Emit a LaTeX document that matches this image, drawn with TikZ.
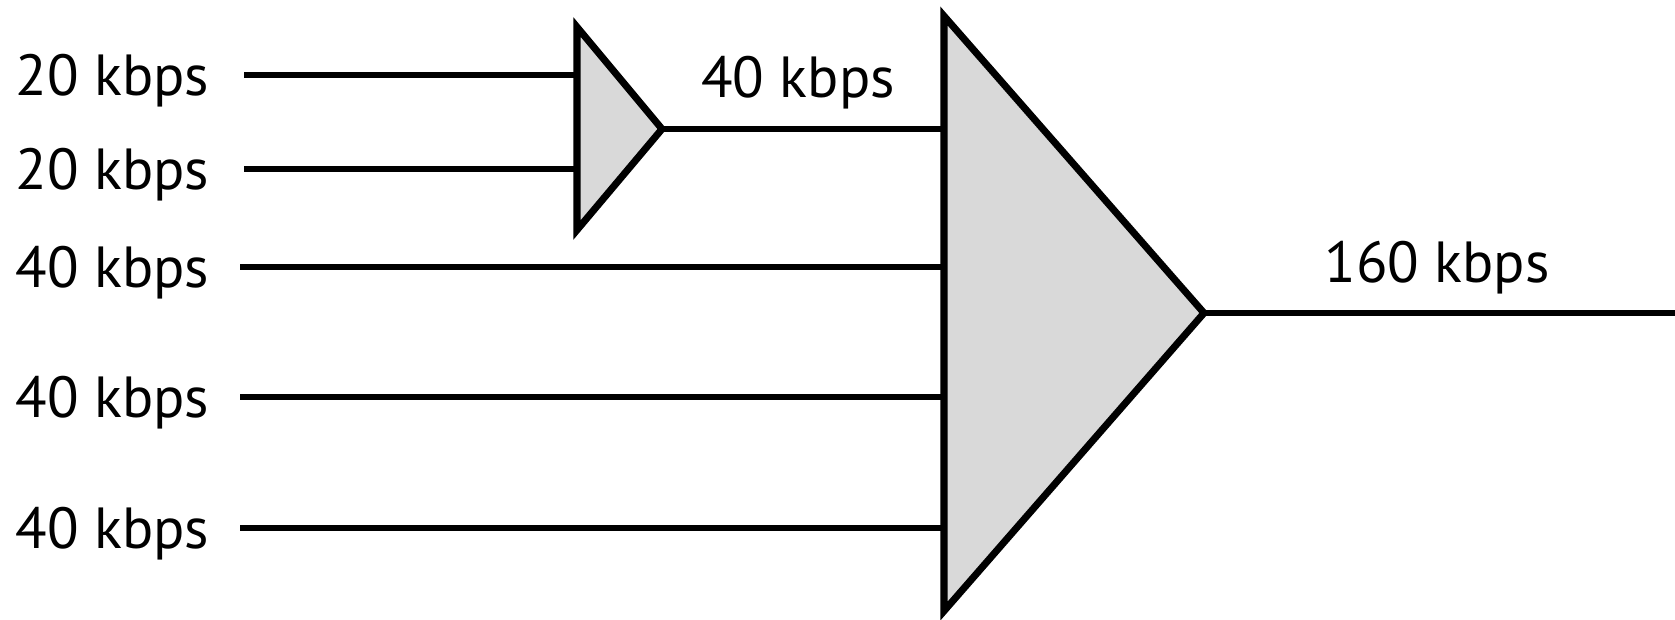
\documentclass[tikz,border=0pt]{standalone}
\usepackage{fontspec}
\setmainfont{PT Sans}
\usetikzlibrary{calc}

\begin{document}
\begin{tikzpicture}[x=0.1mm,y=-0.1mm,
       rate/.style={font=\fontsize{16.5}{20}\selectfont, inner sep=0pt},
       wire/.style={line width=1.5pt},
       mux/.style={line width=2pt, fill=black!15, line join=miter}]
       \useasboundingbox (0,0) rectangle (1675,619);

       %mali mux
       \coordinate (sA) at (577,27);
       \coordinate (sT) at (662,129);
       \coordinate (sB) at (577,230);
       %veliki mux
       \coordinate (bA) at (944,16);
       \coordinate (bT) at (1204,313);
       \coordinate (bB) at (944,611);
       \coordinate (out) at (1675,313);

       %ulazi
       \coordinate (i1) at (244,75);   \coordinate (e1) at (577,75);
       \coordinate (i2) at (244,169);  \coordinate (e2) at (577,169);
       \coordinate (i3) at (240,267);  \coordinate (e3) at (944,267);
       \coordinate (i4) at (240,397);  \coordinate (e4) at (944,397);
       \coordinate (i5) at (240,528);  \coordinate (e5) at (944,528);
       \coordinate (e0) at (944,129);

       %natpisi
       \node[rate, anchor=base east] (r1) at (210,95.5) {20 kbps};
       \node[rate, anchor=base east] (r2) at (210,189.5) {20 kbps};
       \node[rate, anchor=base east] (r3) at (210,287.5) {40 kbps};
       \node[rate, anchor=base east] (r4) at (210,417.5) {40 kbps};
       \node[rate, anchor=base east] (r5) at (210,548.5) {40 kbps};
       \node[rate, anchor=base] (r0) at (798,97.5) {40 kbps};
       \node[rate, anchor=base] (rout) at (1437,282.5) {160 kbps};

       %linije
       \draw[wire] (i1) -- (e1);
       \draw[wire] (i2) -- (e2);
       \draw[wire] (i3) -- (e3);
       \draw[wire] (i4) -- (e4);
       \draw[wire] (i5) -- (e5);
       \draw[wire] (sT) -- (e0);
       \draw[wire] (bT) -- (out);

       %trokuti
       \draw[mux] (sA) -- (sT) -- (sB) -- cycle;
       \draw[mux] (bA) -- (bT) -- (bB) -- cycle;

\end{tikzpicture}
\end{document}
